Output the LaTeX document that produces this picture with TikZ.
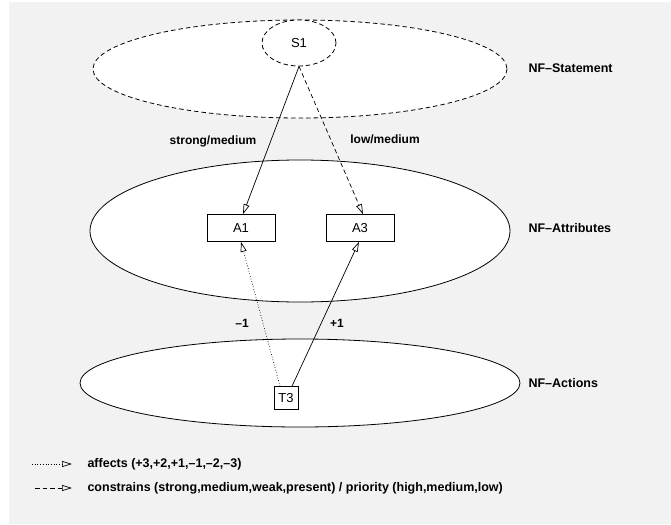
\documentclass[tikz,border=0pt]{standalone}
\usepackage{fontspec}
\setmainfont{Liberation Sans}
\usetikzlibrary{arrows.meta, positioning, calc, shapes.geometric}
\tikzset{
    layer/.style={line width=0.8pt, fill=white},
    longdash/.style={dash pattern=on 4.5pt off 3pt},
    item/.style={draw, line width=0.7pt, fill=white, minimum width=68pt, minimum height=27pt, inner sep=0pt, font=\fontsize{13}{15}\selectfont},
    link/.style={line width=0.7pt, -{Triangle[open, length=10pt, width=6pt]}},
    tag/.style={font=\bfseries\fontsize{12}{14}\selectfont},
    level/.style={font=\bfseries\fontsize{12.5}{14}\selectfont, anchor=west},
    every node/.style={text=black}
}

\begin{document}
\begin{tikzpicture}[x=1pt, y=-1pt]
    \useasboundingbox (0,0) rectangle (671,524);
    \fill[gray!10] (9,2) rectangle (671,524);
    % Layers
    \draw[layer, longdash] (300,69) ellipse [x radius=207, y radius=49];
    \draw[layer] (300,231) ellipse [x radius=210, y radius=71];
    \draw[layer] (300,383) ellipse [x radius=220, y radius=44];
    \node[level] at (525,68) {NF–Statement};
    \node[level] at (525,228) {NF–Attributes};
    \node[level] at (525,383) {NF–Actions};
    % Statement
    \node[draw, longdash, ellipse, line width=0.8pt, fill=white, minimum width=74pt, minimum height=46pt, inner sep=0pt, font=\fontsize{13}{15}\selectfont] (s1) at (299,43) {S1};
    % Attributes
    \node[item] (a1) at (241,228) {A1};
    \node[item] (a3) at (360,228) {A3};
    % Action
    \node[item, minimum width=24pt, minimum height=23pt] (t3) at (286,398) {T3};
    % Links
    \draw[link] (s1.south) -- ([xshift=2pt]a1.north);
    \draw[link, longdash] (s1.south) -- ([xshift=3pt]a3.north);
    \draw[link, dotted] ([xshift=-6pt]t3.north) -- (a1.south);
    \draw[link] ([xshift=6pt]t3.north) -- ([xshift=-1pt]a3.south);
    \node[tag] at (213,141) {strong/medium};
    \node[tag] at (385,139) {low/medium};
    \node[tag] at (242,323) {–1};
    \node[tag] at (337,323) {+1};
    % Legend
    \coordinate (k1) at (32,464);
    \coordinate (k2) at (72,464);
    \coordinate (k3) at (35,488);
    \coordinate (k4) at (72,488);
    \draw[link, dotted] (k1) -- (k2);
    \draw[link, longdash] (k3) -- (k4);
    \node[level] at (84,464) {affects (+3,+2,+1,–1,–2,–3)};
    \node[level] at (84,488) {constrains (strong,medium,weak,present) / priority (high,medium,low)};
\end{tikzpicture}
\end{document}
